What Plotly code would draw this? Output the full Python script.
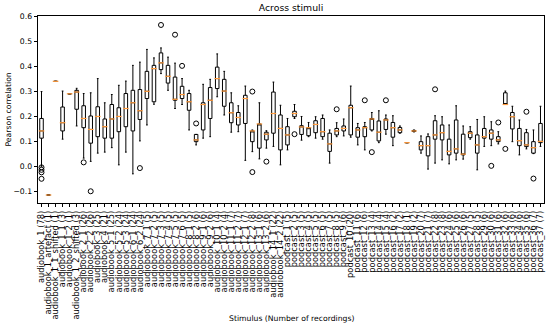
import plotly.graph_objects as go

audiobooks = [
    "audiobook_1 (78)", "audiobook_1_artefact (1)", "audiobook_1_1_shifted (1)",
    "audiobook_1_1 (3)", "audiobook_1_2 (1)", "audiobook_1_2_shifted (3)",
    "audiobook_2_1 (26)", "audiobook_2_2 (26)", "audiobook_3 (25)", "audiobook_4 (21)",
    "audiobook_5_1 (25)", "audiobook_5_2 (24)", "audiobook_5_3 (24)",
    "audiobook_6_1 (24)", "audiobook_6_2 (24)",
    "audiobook_7_1 (5)", "audiobook_7_2 (5)", "audiobook_7_3 (5)", "audiobook_7_4 (5)",
    "audiobook_7_5 (5)", "audiobook_7_6 (5)",
    "audiobook_8_1 (5)", "audiobook_8_2 (6)", "audiobook_9_1 (6)", "audiobook_9_2 (6)",
    "audiobook_10_1 (4)", "audiobook_10_2 (4)", "audiobook_11_1 (7)", "audiobook_11_2 (7)",
    "audiobook_12_1 (7)", "audiobook_12_2 (8)", "audiobook_13_1 (6)", "audiobook_13_2 (6)",
    "audiobook_14_1 (22)", "audiobook_14_2 (22)",
]
podcast_counts = [5, 5, 5, 5, 5, 5, 5, 5, 6, 20, 6, 6, 4, 4, 4, 2, 2, 1, 2, 7,
                  7, 8, 8, 6, 6, 6, 5, 5, 6, 6, 6, 6, 6, 6, 6, 7, 7]
podcasts = [f"podcast_{i + 1} ({c})" for i, c in enumerate(podcast_counts)]
labels = audiobooks + podcasts

q1 = [0.113, -0.115, 0.341, 0.142, 0.291, 0.229, 0.155, 0.093, 0.119, 0.113,
      0.113, 0.139, 0.159, 0.142, 0.188, 0.272, 0.259, 0.388, 0.334, 0.265,
      0.272, 0.225, 0.099, 0.146, 0.192, 0.312, 0.241, 0.175, 0.166, 0.172,
      0.099, 0.073, 0.106, 0.133, 0.066,
      0.086, 0.199, 0.128, 0.123, 0.135, 0.119, 0.060, 0.126, 0.142, 0.126,
      0.117, 0.119, 0.146, 0.102, 0.148, 0.117, 0.135, 0.095, 0.140, 0.066,
      0.042, 0.109, 0.106, 0.046, 0.053, 0.046, 0.115, 0.053, 0.113, 0.109,
      0.099, 0.248, 0.150, 0.083, 0.079, 0.053, 0.095]
med = [0.142, -0.115, 0.341, 0.175, 0.291, 0.298, 0.192, 0.148, 0.200, 0.159,
       0.190, 0.200, 0.232, 0.255, 0.223, 0.301, 0.392, 0.415, 0.361, 0.269,
       0.288, 0.259, 0.106, 0.248, 0.265, 0.352, 0.302, 0.215, 0.196, 0.272,
       0.142, 0.170, 0.129, 0.212, 0.152,
       0.126, 0.212, 0.158, 0.155, 0.168, 0.139, 0.090, 0.142, 0.152, 0.235,
       0.146, 0.155, 0.190, 0.137, 0.186, 0.155, 0.146, 0.095, 0.142, 0.083,
       0.083, 0.126, 0.135, 0.060, 0.070, 0.049, 0.133, 0.086, 0.119, 0.133,
       0.106, 0.248, 0.199, 0.103, 0.086, 0.075, 0.100]
q3 = [0.192, -0.115, 0.341, 0.238, 0.291, 0.305, 0.243, 0.202, 0.239, 0.190,
      0.248, 0.235, 0.292, 0.305, 0.308, 0.381, 0.405, 0.455, 0.405, 0.358,
      0.321, 0.292, 0.128, 0.255, 0.316, 0.398, 0.349, 0.255, 0.216, 0.285,
      0.142, 0.170, 0.137, 0.298, 0.206,
      0.159, 0.221, 0.163, 0.155, 0.183, 0.192, 0.133, 0.152, 0.162, 0.245,
      0.155, 0.159, 0.192, 0.182, 0.190, 0.176, 0.156, 0.095, 0.144, 0.099,
      0.119, 0.183, 0.166, 0.109, 0.186, 0.129, 0.139, 0.126, 0.152, 0.146,
      0.119, 0.295, 0.216, 0.152, 0.135, 0.099, 0.172]
lo = [0.000, -0.115, 0.341, 0.109, 0.291, 0.162, 0.033, 0.020, 0.053, 0.057,
      0.075, 0.006, 0.057, -0.030, 0.102, 0.166, 0.249, 0.372, 0.305, 0.232,
      0.248, 0.146, 0.086, 0.113, 0.119, 0.279, 0.206, 0.137, 0.139, 0.024,
      0.059, 0.030, 0.073, 0.080, 0.006,
      0.066, 0.192, 0.105, 0.119, 0.113, 0.109, 0.013, 0.119, 0.122, 0.117,
      0.086, 0.066, 0.142, 0.095, 0.129, 0.083, 0.133, 0.095, 0.138, 0.053,
      -0.011, 0.013, 0.026, 0.010, 0.026, 0.029, 0.109, -0.014, 0.080, 0.083,
      0.090, 0.248, 0.099, 0.046, 0.070, 0.051, 0.080]
hi = [0.300, -0.115, 0.341, 0.302, 0.291, 0.313, 0.292, 0.295, 0.352, 0.255,
      0.288, 0.325, 0.342, 0.405, 0.418, 0.469, 0.435, 0.475, 0.438, 0.414,
      0.352, 0.305, 0.128, 0.329, 0.349, 0.451, 0.381, 0.295, 0.243, 0.322,
      0.146, 0.255, 0.143, 0.338, 0.245,
      0.192, 0.248, 0.200, 0.176, 0.199, 0.206, 0.146, 0.175, 0.190, 0.322,
      0.172, 0.176, 0.216, 0.223, 0.206, 0.203, 0.162, 0.095, 0.146, 0.122,
      0.130, 0.203, 0.199, 0.166, 0.243, 0.162, 0.159, 0.188, 0.199, 0.179,
      0.139, 0.302, 0.241, 0.186, 0.148, 0.146, 0.241]

outlier_idx = [0, 0, 0, 0, 6, 7, 14, 17, 19, 20, 22, 30, 30, 32,
               36, 42, 46, 47, 49, 56, 64, 65, 66, 69, 70]
outlier_val = [-0.004, -0.014, -0.024, -0.050, 0.016, -0.100, -0.007, 0.567, 0.528, 0.403,
               0.172, 0.300, -0.023, 0.019,
               0.129, 0.229, 0.265, 0.057, 0.265, 0.309, 0.002, 0.176, 0.070, 0.219, -0.049]

fig = go.Figure()
fig.add_trace(go.Box(
    x=labels, q1=q1, median=med, q3=q3, lowerfence=lo, upperfence=hi,
    boxpoints=False, width=0.5, whiskerwidth=0.5,
    fillcolor="white", line=dict(color="black", width=1),
    showlegend=False, hoverinfo="skip",
))
fig.add_trace(go.Scatter(
    x=labels, y=med, mode="markers",
    marker=dict(symbol="line-ew", size=4, line=dict(color="#ff9a3c", width=1.2)),
    showlegend=False, hoverinfo="skip",
))
fig.add_trace(go.Scatter(
    x=[labels[i] for i in outlier_idx], y=outlier_val, mode="markers",
    marker=dict(symbol="circle-open", size=5, color="black", line=dict(width=1)),
    showlegend=False, hoverinfo="skip",
))

font_family = "DejaVu Sans"
fig.update_layout(
    width=550, height=327,
    margin=dict(l=38, r=6, t=16, b=124),
    paper_bgcolor="white", plot_bgcolor="white",
    font=dict(family=font_family, size=8, color="black"),
    title=dict(text="Across stimuli", x=0.5, xref="paper", xanchor="center",
               y=1 - 8 / 327, yanchor="middle", font=dict(size=9.3, color="black")),
    xaxis=dict(
        type="category", categoryorder="array", categoryarray=labels,
        range=[-0.5, len(labels) - 0.5],
        tickmode="array", tickvals=labels, ticktext=labels,
        tickangle=-90, tickfont=dict(size=8.3),
        ticks="outside", ticklen=3.5, tickwidth=0.8, tickcolor="black",
        showline=True, linecolor="black", linewidth=0.8, mirror=True,
        showgrid=False, zeroline=False,
    ),
    yaxis=dict(
        range=[-0.147, 0.603], tickmode="linear", tick0=-0.1, dtick=0.1,
        tickformat=".1f", tickfont=dict(size=7.7),
        ticks="outside", ticklen=3.5, tickwidth=0.8, tickcolor="black",
        showline=True, linecolor="black", linewidth=0.8, mirror=True,
        showgrid=False, zeroline=False,
    ),
    annotations=[
        dict(text="Stimulus (Number of recordings)", xref="paper", yref="paper",
             x=0.5, y=-(318 - 203) / 187, xanchor="center", yanchor="middle",
             showarrow=False, font=dict(size=7.7)),
        dict(text="Pearson correlation", xref="paper", yref="paper",
             x=(8 - 38) / 506, y=0.5, xanchor="center", yanchor="middle",
             textangle=-90, showarrow=False, font=dict(size=7.7)),
    ],
)

fig.write_html("out.html", config={"displayModeBar": False},
               post_script="document.body.style.margin='0';")
